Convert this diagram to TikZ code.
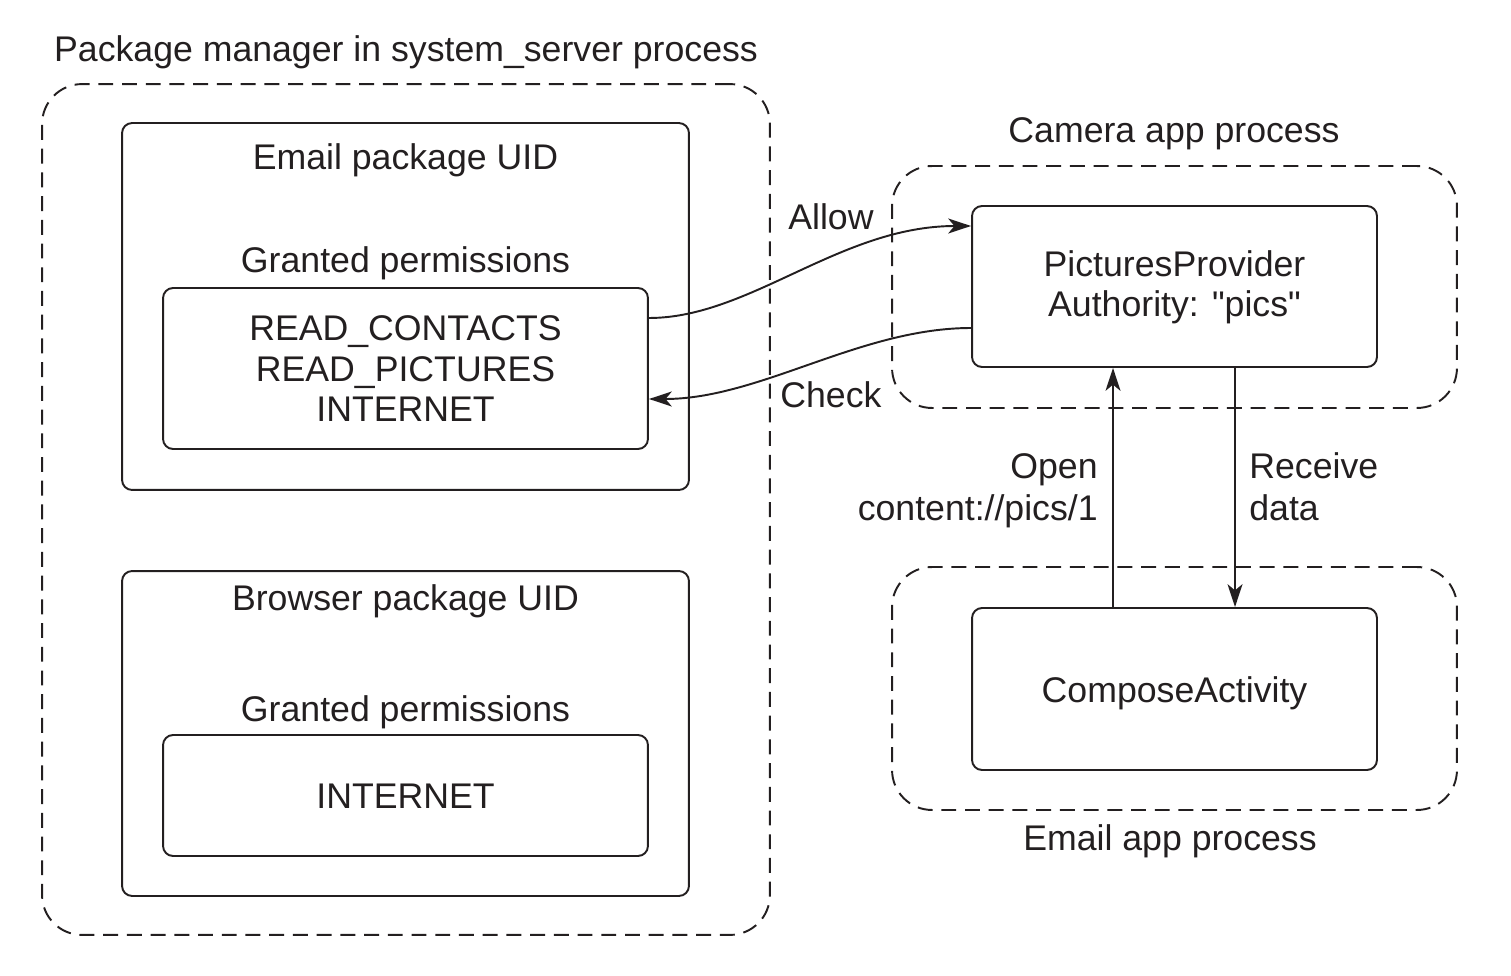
\documentclass[tikz,border=0pt]{standalone}
\usepackage{fontspec}
\setmainfont{Liberation Sans}
\newfontfamily\lsans{Liberation Sans}
\usetikzlibrary{arrows.meta,calc}
\definecolor{ink}{RGB}{35,31,32}
\begin{document}
\begin{tikzpicture}[x=0.02cm,y=-0.02cm,
  lbl/.style={font=\lsans\fontsize{20.3}{23}\selectfont, text=ink, anchor=base, inner sep=0pt},
  procbox/.style={draw=ink, line width=1.1pt, dash pattern=on 8.5pt off 5pt, rounded corners=0.8cm, inner sep=0pt},
  uidbox/.style={draw=ink, line width=1.1pt, rounded corners=0.2cm, inner sep=0pt},
  conn/.style={draw=ink, line width=1.1pt, -{Stealth[length=13pt,width=8.5pt,inset=3.5pt]}}
]
\useasboundingbox (0,0) rectangle (1511,976);

% Package manager process
\node[procbox, minimum width=14.56cm, minimum height=17.02cm] (pm) at (406,509.5) {};
\node[lbl] (pmlbl) at (406,62) {Package manager in system\_server process};

% Email package UID
\node[uidbox, minimum width=11.34cm, minimum height=7.34cm] (euid) at (405.5,306.5) {};
\node[lbl] (euidlbl) at (405.5,170) {Email package UID};
\node[lbl] (egrant) at (405.5,273) {Granted permissions};
\node[uidbox, minimum width=9.7cm, minimum height=3.22cm] (perm) at (405.5,368.5) {};
\node[lbl] (p1) at (405.5,341) {READ\_CONTACTS};
\node[lbl] (p2) at (405.5,381) {READ\_PICTURES};
\node[lbl] (p3) at (405.5,421) {INTERNET};

% Browser package UID
\node[uidbox, minimum width=11.34cm, minimum height=6.5cm] (buid) at (405.5,733.5) {};
\node[lbl] (buidlbl) at (405.5,610) {Browser package UID};
\node[lbl] (bgrant) at (405.5,721) {Granted permissions};
\node[uidbox, minimum width=9.7cm, minimum height=2.42cm] (bperm) at (405.5,795.5) {};
\node[lbl] (bp1) at (405.5,808) {INTERNET};

% Camera app process
\node[procbox, minimum width=11.3cm, minimum height=4.84cm] (cam) at (1174.5,287) {};
\node[lbl] (camlbl) at (1174,143) {Camera app process};
\node[uidbox, minimum width=8.1cm, minimum height=3.22cm] (pp) at (1174.5,286.5) {};
\node[lbl] (pp1) at (1174.5,277) {PicturesProvider};
\node[lbl] (pp2) at (1174.5,317) {Authority: "pics"};

% Email app process
\node[procbox, minimum width=11.3cm, minimum height=4.86cm] (eapp) at (1174.5,688.5) {};
\node[lbl] (eapplbl) at (1170,850) {Email app process};
\node[uidbox, minimum width=8.1cm, minimum height=3.24cm] (ca) at (1174.5,689) {};
\node[lbl] (ca1) at (1174.5,702) {ComposeActivity};

% helper coordinates
\coordinate (xo) at (1113,0);
\coordinate (xr) at (1235,0);
\coordinate (ya1) at (0,318);
\coordinate (ya2) at (0,226);
\coordinate (yc1) at (0,328);
\coordinate (yc2) at (0,399);

% connectors
\draw[conn] (ca.north -| xo) -- (pp.south -| xo);
\draw[conn] (pp.south -| xr) -- (ca.north -| xr);
\draw[conn] (perm.east |- ya1) .. controls (750,318) and (840,226) .. (pp.west |- ya2);
\draw[conn] (pp.west |- yc1) .. controls (860,328) and (760,399) .. (perm.east |- yc2);

% connector labels
\node[lbl, anchor=base west] (allow) at (788,230) {Allow};
\node[lbl, anchor=base west] (check) at (780,408) {Check};
\node[lbl, anchor=base east] (open1) at (1098,478) {Open};
\node[lbl, anchor=base east] (open2) at (1098,520) {content://pics/1};
\node[lbl, anchor=base west] (recv1) at (1249,478) {Receive};
\node[lbl, anchor=base west] (recv2) at (1249,520) {data};
\end{tikzpicture}
\end{document}
